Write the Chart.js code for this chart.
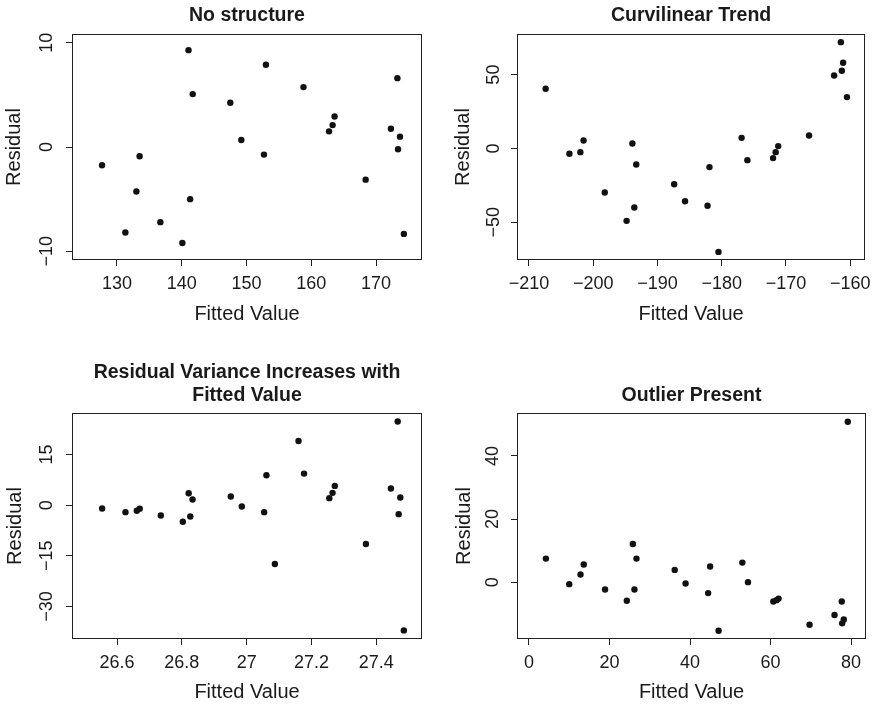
<!DOCTYPE html>
<html>
<head>
<meta charset="utf-8">
<script src="https://cdn.jsdelivr.net/npm/chart.js@4/dist/chart.umd.min.js"></script>
<style>
  body { margin: 0; background: #fff; }
  .panel { position: absolute; width: 439px; height: 352px; }
</style>
</head>
<body>
<div class="panel" style="left:0;top:0"><canvas id="noStructure" width="439" height="352"></canvas></div>
<div class="panel" style="left:439px;top:0"><canvas id="curvilinear" width="439" height="352"></canvas></div>
<div class="panel" style="left:0;top:352px"><canvas id="variance" width="439" height="352"></canvas></div>
<div class="panel" style="left:439px;top:352px"><canvas id="outlier" width="439" height="352"></canvas></div>
<script>
// residuals vs fitted values, four patterns
const noStructFitted = [127.7, 131.3, 133.0, 133.5, 136.7, 140.1, 141.05, 141.3, 141.7, 147.5, 149.2, 152.7,
  153.0, 158.8, 162.75, 163.3, 163.6, 168.4, 172.3, 173.3, 173.4, 173.7, 174.3];
const noStructResid = [-1.75, -8.2, -4.27, -0.89, -7.2, -9.2, 9.28, -5.0, 5.07, 4.24, 0.67, -0.73,
  7.88, 5.74, 1.5, 2.1, 2.93, -3.13, 1.75, 6.6, -0.22, 0.99, -8.33];

const curveFitted = [-207.4, -203.7, -202.0, -201.5, -198.2, -194.8, -193.9, -193.6, -193.3, -187.4, -185.7,
  -182.2, -181.9, -180.5, -176.9, -176.0, -172.0, -171.6, -171.2, -166.4, -162.5, -161.45, -161.3, -161.1, -160.5];
const curveResid = [40.4, -3.6, -2.5, 5.4, -29.8, -49.0, 3.4, -40.0, -10.8, -24.2, -35.7,
  -38.8, -12.6, -70.0, 7.2, -7.9, -6.5, -2.5, 1.6, 8.8, 49.4, 72.0, 52.6, 58.0, 34.8];

const varianceFitted = [26.554, 26.626, 26.661, 26.670, 26.735, 26.803, 26.821, 26.826, 26.833, 26.951, 26.985,
  27.054, 27.061, 27.087, 27.160, 27.177, 27.255, 27.265, 27.272, 27.368, 27.445, 27.466, 27.469, 27.474, 27.485];
const varianceResid = [-0.98, -2.07, -1.67, -1.08, -3.05, -4.92, 3.54, -3.35, 1.67, 2.56, -0.39,
  -2.07, 8.86, -17.43, 19.0, 9.35, 2.07, 3.64, 5.71, -11.52, 4.92, 24.8, -2.66, 2.26, -37.1];

const outlierFitted = [4.2, 10.0, 12.8, 13.6, 18.9, 24.3, 25.8, 26.2, 26.7, 36.2, 38.9,
  44.5, 45.0, 47.1, 53.0, 54.4, 60.7, 61.5, 62.0, 69.7, 75.9, 77.7, 77.8, 78.2, 79.2];
const outlierResid = [7.47, -0.63, 2.42, 5.58, -2.32, -5.89, 12.1, -2.32, 7.47, 3.89, -0.42,
  -3.47, 4.95, -15.4, 6.2, 0, -6.1, -5.7, -5.2, -13.5, -10.4, -6.1, -13.05, -11.8, 50.8];

const noStructXTicks = [130, 140, 150, 160, 170];
const noStructYTicks = [-10, 0, 10];
const curveXTicks = [-210, -200, -190, -180, -170, -160];
const curveYTicks = [-50, 0, 50];
const varianceXTicks = [26.6, 26.8, 27, 27.2, 27.4];
const varianceYTicks = [-30, -15, 0, 15];
const outlierXTicks = [0, 20, 40, 60, 80];
const outlierYTicks = [0, 20, 40];

const FONT = '"Liberation Sans", Arial, Helvetica, sans-serif';
const INK = '#1a1a1a';

// box around the plotting region, like R's box()
const plotBox = {
  id: 'plotBox',
  beforeDatasetsDraw(chart) {
    const { ctx, chartArea: a } = chart;
    ctx.save();
    ctx.strokeStyle = '#222';
    ctx.lineWidth = 1;
    ctx.strokeRect(Math.round(a.left) + 0.5, Math.round(a.top) + 0.5,
      Math.round(a.right - a.left) - 1, Math.round(a.bottom - a.top) - 1);
    ctx.restore();
  }
};

const fmt = v => String(v).replace('-', '\u2212');

function residualPlot(id, p) {
  return new Chart(document.getElementById(id), {
    type: 'scatter',
    data: {
      datasets: [{
        data: p.x.map((v, i) => ({ x: v, y: p.y[i] })),
        backgroundColor: '#111',
        borderWidth: 0,
        pointRadius: 3.2,
        pointHoverRadius: 3.2
      }]
    },
    options: {
      responsive: false,
      animation: false,
      events: [],
      layout: { padding: { left: 0, top: 0, right: p.padRight, bottom: 0 } },
      plugins: {
        legend: { display: false },
        tooltip: { enabled: false },
        title: {
          display: true,
          text: p.title,
          fullSize: false,
          color: INK,
          font: { family: FONT, size: 19.5, weight: 'bold', lineHeight: 1.195 },
          padding: p.titlePad
        }
      },
      scales: {
        x: {
          type: 'linear',
          min: p.xRange[0],
          max: p.xRange[1],
          afterBuildTicks: s => { s.ticks = p.xTicks.map(v => ({ value: v })); },
          afterFit: s => { s.height = p.xAxisH; },
          border: { display: false },
          grid: { drawOnChartArea: false, drawTicks: true, tickLength: 6, color: '#222' },
          ticks: { color: INK, font: { family: FONT, size: 18 }, padding: 7, maxRotation: 0, callback: fmt },
          title: { display: true, text: 'Fitted Value', color: INK, font: { family: FONT, size: 20 },
            padding: { top: 0, bottom: p.xTitleBottom } }
        },
        y: {
          type: 'linear',
          min: p.yRange[0],
          max: p.yRange[1],
          afterBuildTicks: s => { s.ticks = p.yTicks.map(v => ({ value: v })); },
          afterFit: s => { s.width = p.yAxisW; },
          border: { display: false },
          grid: { drawOnChartArea: false, drawTicks: true, tickLength: 6, color: '#222' },
          ticks: { color: INK, font: { family: FONT, size: 18 }, minRotation: 90, maxRotation: 90,
            crossAlign: 'center', padding: p.yTickPad, callback: fmt },
          title: { display: true, text: 'Residual', color: INK, font: { family: FONT, size: 20 },
            padding: { top: p.yTitleTop, bottom: 0 } }
        }
      }
    },
    plugins: [plotBox]
  });
}

residualPlot('noStructure', {
  title: 'No structure', x: noStructFitted, y: noStructResid,
  xTicks: noStructXTicks, yTicks: noStructYTicks,
  xRange: [123.06, 177.1], yRange: [-10.83, 10.83],
  titlePad: { top: 3.85, bottom: 6.85 }, padRight: 17, yAxisW: 72, xAxisH: 92,
  yTickPad: 3.7, yTitleTop: 2.7, xTitleBottom: 25.5
});

residualPlot('curvilinear', {
  title: 'Curvilinear Trend', x: curveFitted, y: curveResid,
  xTicks: curveXTicks, yTicks: curveYTicks,
  xRange: [-211.86, -157.67], yRange: [-75.5, 77.5],
  titlePad: { top: 3.85, bottom: 6.85 }, padRight: 12, yAxisW: 78, xAxisH: 92,
  yTickPad: 2, yTitleTop: 12.8, xTitleBottom: 25.5
});

residualPlot('variance', {
  title: ['Residual Variance Increases with', 'Fitted Value'], x: varianceFitted, y: varianceResid,
  xTicks: varianceXTicks, yTicks: varianceYTicks,
  xRange: [26.461, 27.541], yRange: [-39.65, 27.3],
  titlePad: { top: 8.85, bottom: 5.55 }, padRight: 17, yAxisW: 72, xAxisH: 65,
  yTickPad: 3.5, yTitleTop: 3.7, xTitleBottom: 0
});

residualPlot('outlier', {
  title: 'Outlier Present', x: outlierFitted, y: outlierResid,
  xTicks: outlierXTicks, yTicks: outlierYTicks,
  xRange: [-2.98, 83.72], yRange: [-18.0, 53.58],
  titlePad: { top: 32.15, bottom: 5.55 }, padRight: 12, yAxisW: 78, xAxisH: 65,
  yTickPad: 7.8, yTitleTop: 13.8, xTitleBottom: 0
});
</script>
</body>
</html>
